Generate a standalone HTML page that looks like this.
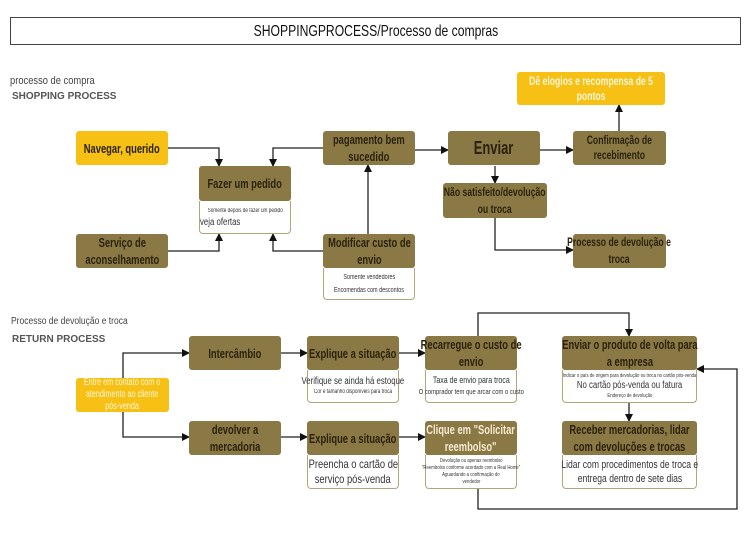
<!DOCTYPE html>
<html><head><meta charset="utf-8"><style>
*{margin:0;padding:0;box-sizing:border-box}
body{width:750px;height:534px;background:#fff;position:relative;overflow:hidden;font-family:"Liberation Sans",sans-serif}
.n{position:absolute;background:#8b7945;border-radius:3px;display:flex;align-items:center;justify-content:center;text-align:center;color:#2a220c;font-size:13px;line-height:17px;font-weight:bold}
.n>span,.c{display:inline-block;white-space:nowrap;transform:scaleX(.72);transform-origin:center}
.y{background:#f6c014}
.s{position:absolute;background:#fff;border:1.5px solid #b3a57a;border-top:none;border-radius:0 0 4px 4px;text-align:center;color:#333;font-size:9px;line-height:12px;display:flex;flex-direction:column;justify-content:center;align-items:center}
.s span{display:block;white-space:nowrap;transform:scaleX(.78)}
.t{position:absolute;color:#444;font-size:11px;white-space:nowrap;transform-origin:left center}
svg{position:absolute;left:0;top:0}
</style></head><body>
<div style="position:absolute;left:10px;top:17px;width:731px;height:28px;border:1px solid #444;text-align:center;font-size:16px;line-height:27px;color:#111"><span class="c" style="transform:scaleX(.76)">SHOPPINGPROCESS/Processo de compras</span></div>
<div class="t" style="left:10px;top:75px;transform:scaleX(.85)">processo de compra</div>
<div class="t" style="left:12px;top:91px;font-weight:bold;font-size:10px;color:#555">SHOPPING PROCESS</div>
<div class="t" style="left:11px;top:316px;font-size:10px;transform:scaleX(.85)">Processo de devolução e troca</div>
<div class="t" style="left:12px;top:334px;font-weight:bold;font-size:10px;color:#555">RETURN PROCESS</div>

<svg width="750" height="534" viewBox="0 0 750 534">
<defs><marker id="a" markerWidth="8" markerHeight="8" refX="7" refY="4" orient="auto" markerUnits="userSpaceOnUse"><path d="M0,0 L8,4 L0,8z" fill="#111"/></marker></defs>
<g fill="none" stroke="#222" stroke-width="1.3" marker-end="url(#a)">
<path d="M168,148 H219 V166"/>
<path d="M323,148 H273 V166"/>
<path d="M168,251 H219 V234"/>
<path d="M323,251 H273 V234"/>
<path d="M368,234 V165"/>
<path d="M415,150 H448"/>
<path d="M540,150 H573"/>
<path d="M619,131 V105"/>
<path d="M495,166 V183"/>
<path d="M495,218 V250 H573"/>
<path d="M123,378 V353 H189"/>
<path d="M123,412 V437 H189"/>
<path d="M281,353 H307"/>
<path d="M399,353 H425"/>
<path d="M281,437 H307"/>
<path d="M399,437 H425"/>
<path d="M478,336 V313 H629 V336"/>
<path d="M629,403 V421"/>
<path d="M478,489 V509 H737 V369 H697"/>
</g></svg>

<div class="n y" style="left:76px;top:131px;width:92px;height:34px"><span>Navegar, querido</span></div>
<div class="n" style="left:199px;top:166px;width:92px;height:35px"><span>Fazer um pedido</span></div>
<div class="s" style="left:199px;top:201px;width:92px;height:33px;font-size:6px;line-height:10px"><span>Somente depois de fazer um pedido</span><span style="font-size:10px;line-height:13px;align-self:flex-start;transform-origin:left">veja ofertas</span></div>
<div class="n" style="left:76px;top:234px;width:92px;height:34px"><span>Serviço de<br>aconselhamento</span></div>
<div class="n" style="left:323px;top:131px;width:92px;height:34px"><span>pagamento bem<br>sucedido</span></div>
<div class="n" style="left:323px;top:234px;width:92px;height:34px"><span>Modificar custo de<br>envio</span></div>
<div class="s" style="left:323px;top:268px;width:92px;height:32px;font-size:7px;line-height:13px"><span>Somente vendedores</span><span>Encomendas com descontos</span></div>
<div class="n" style="left:448px;top:131px;width:92px;height:34px;font-size:18px"><span>Enviar</span></div>
<div class="n" style="left:573px;top:131px;width:93px;height:34px;font-size:12px;line-height:15px"><span>Confirmação de<br>recebimento</span></div>
<div class="n y" style="left:517px;top:72px;width:148px;height:33px;color:#fff6d8;font-size:12px;line-height:15px"><span>Dê elogios e recompensa de 5<br>pontos</span></div>
<div class="n" style="left:443px;top:183px;width:104px;height:35px;font-size:12px"><span>Não satisfeito/devolução<br>ou troca</span></div>
<div class="n" style="left:573px;top:234px;width:93px;height:34px;font-size:12px"><span>Processo de devolução e<br>troca</span></div>

<div class="n" style="left:189px;top:336px;width:92px;height:34px"><span>Intercâmbio</span></div>
<div class="n y" style="left:76px;top:378px;width:93px;height:34px;color:#fff6d8;font-size:10px;line-height:12px;font-weight:normal"><span>Entre em contato com o<br>atendimento ao cliente<br>pós-venda</span></div>
<div class="n" style="left:189px;top:421px;width:92px;height:34px"><span>devolver a<br>mercadoria</span></div>
<div class="n" style="left:307px;top:336px;width:92px;height:34px"><span>Explique a situação</span></div>
<div class="s" style="left:307px;top:370px;width:92px;height:33px;font-size:10px;line-height:12px"><span>Verifique se ainda há estoque</span><span style="font-size:6px;line-height:8px">Cor e tamanho disponíveis para troca</span></div>
<div class="n" style="left:307px;top:421px;width:92px;height:34px"><span>Explique a situação</span></div>
<div class="s" style="left:307px;top:455px;width:92px;height:34px;font-size:12px;line-height:15px"><span>Preencha o cartão de</span><span>serviço pós-venda</span></div>
<div class="n" style="left:425px;top:336px;width:92px;height:34px"><span>Recarregue o custo de<br>envio</span></div>
<div class="s" style="left:425px;top:370px;width:92px;height:33px;font-size:9px;line-height:12px"><span>Taxa de envio para troca</span><span style="font-size:7.5px">O comprador tem que arcar com o custo</span></div>
<div class="n" style="left:425px;top:421px;width:92px;height:34px;color:#f3ead0"><span>Clique em "Solicitar<br>reembolso"</span></div>
<div class="s" style="left:425px;top:455px;width:92px;height:34px;font-size:5.5px;line-height:7px"><span>Devolução ou apenas reembolso</span><span>"Reembolso conforme acordado com a Real Home"</span><span>Aguardando a confirmação do</span><span>vendedor</span></div>
<div class="n" style="left:562px;top:336px;width:135px;height:34px"><span>Enviar o produto de volta para<br>a empresa</span></div>
<div class="s" style="left:562px;top:370px;width:135px;height:33px;font-size:5.5px;line-height:8px"><span>Indicar o país de origem para devolução ou troca no cartão pós-venda</span><span style="font-size:10px;line-height:12px">No cartão pós-venda ou fatura</span><span>Endereço de devolução</span></div>
<div class="n" style="left:562px;top:421px;width:135px;height:34px"><span>Receber mercadorias, lidar<br>com devoluções e trocas</span></div>
<div class="s" style="left:562px;top:455px;width:135px;height:34px;font-size:11px;line-height:14px"><span>Lidar com procedimentos de troca e</span><span>entrega dentro de sete dias</span></div>
</body></html>
